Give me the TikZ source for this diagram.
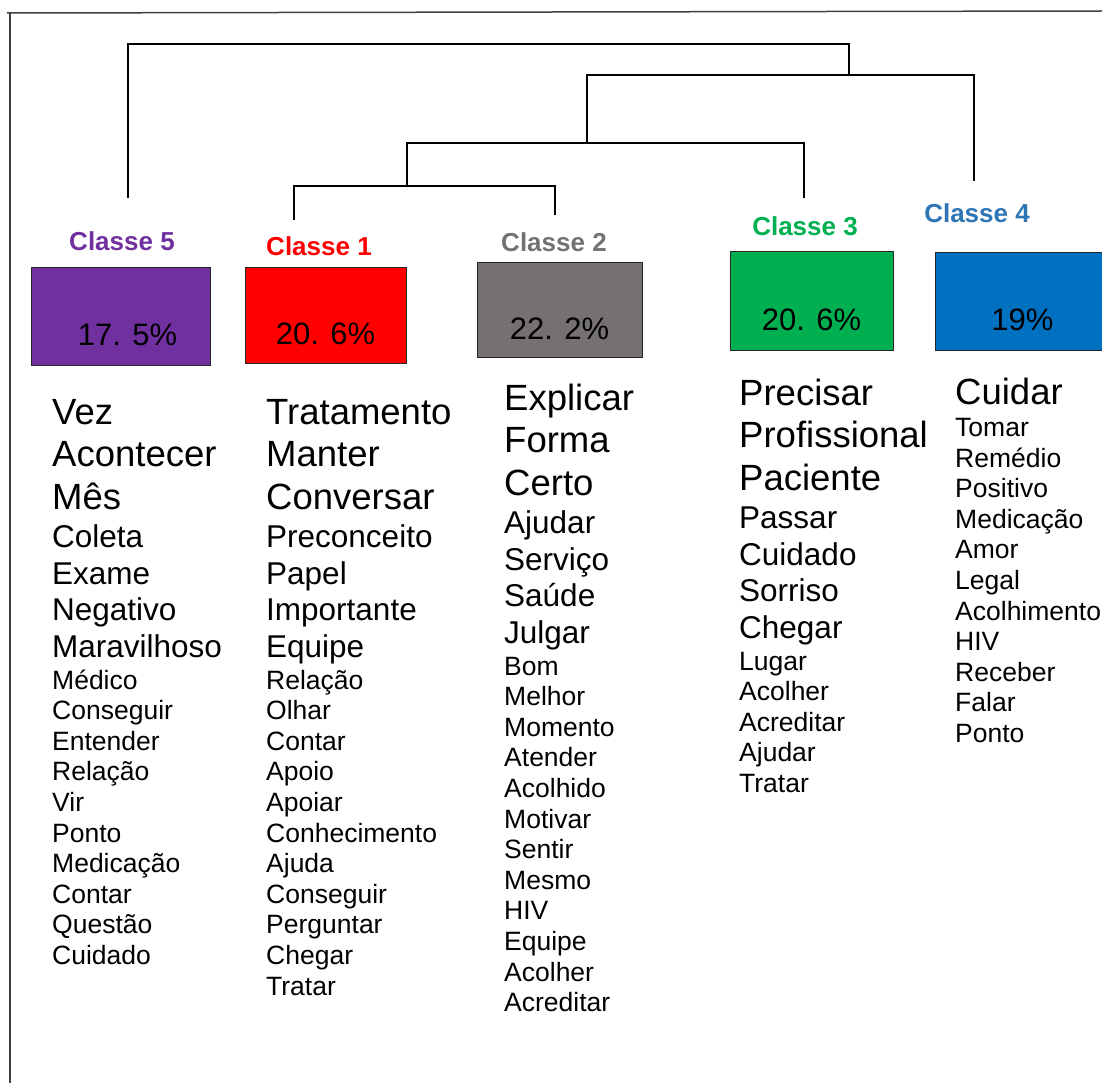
\documentclass[tikz,border=0pt]{standalone}
\usepackage{fontspec}
\setmainfont{Liberation Sans}
\usepackage{xcolor}
\usetikzlibrary{positioning,calc}

\definecolor{purpleC}{HTML}{7030A0}
\definecolor{redC}{HTML}{FF0000}
\definecolor{grayC}{HTML}{767171}
\definecolor{greenC}{HTML}{00B050}
\definecolor{blueC}{HTML}{0070C0}
\definecolor{blueT}{HTML}{2E75B6}

\begin{document}
\begin{tikzpicture}[x=1pt, y=-1pt,
    box/.style={rectangle, draw=black!85, line width=0.8pt, inner sep=0pt},
    classe/.style={font=\fontsize{26}{31}\selectfont\bfseries, inner sep=0pt},
    pct/.style={font=\fontsize{31}{36}\selectfont, inner sep=0pt},
    big/.style={font=\fontsize{36.5}{43}\selectfont, anchor=base west, inner sep=0pt},
    mid/.style={font=\fontsize{31.5}{37}\selectfont, anchor=base west, inner sep=0pt},
    small/.style={font=\fontsize{26.5}{31}\selectfont, anchor=base west, inner sep=0pt},
    dendro/.style={line width=2.8pt, black},
    frame/.style={line width=1.5pt, black!75}]

    \useasboundingbox (0,0) rectangle (1102,1083);

    % frame
    \draw[frame] (7,13) -- (1102,11);
    \draw[frame] (10,13) -- (10,1083);

    % Boxes
    \node[box, fill=purpleC, minimum width=179pt, minimum height=98pt] (b5) at (120.5,316) {};
    \node[box, fill=redC, minimum width=161pt, minimum height=96pt] (b1) at (325.5,315) {};
    \node[box, fill=grayC, minimum width=165pt, minimum height=95pt] (b2) at (559.5,309.5) {};
    \node[box, fill=greenC, minimum width=163pt, minimum height=99pt] (b3) at (811.5,300.5) {};
    \node[box, fill=blueC, minimum width=175pt, minimum height=98pt] (b4) at (1022.5,301) {};

    \node[pct] (p5) at ([xshift=7pt, yshift=-19pt]b5.center) {17. 5\%};
    \node[pct] (p1) at ([yshift=-19pt]b1.center) {20. 6\%};
    \node[pct] (p2) at ([yshift=-19pt]b2.center) {22. 2\%};
    \node[pct] (p3) at ([yshift=-19pt]b3.center) {20. 6\%};
    \node[pct] (p4) at ([yshift=-19pt]b4.center) {19\%};

    % Class labels
    \node[classe, text=purpleC] (l5) at (122,241) {Classe 5};
    \node[classe, text=redC] (l1) at (319,246) {Classe 1};
    \node[classe, text=grayC] (l2) at (554,242) {Classe 2};
    \node[classe, text=greenC] (l3) at (805,226) {Classe 3};
    \node[classe, text=blueT] (l4) at (977,213) {Classe 4};

    % Dendrogram
    \coordinate (t5) at (128,198);
    \coordinate (t1) at (294,220);
    \coordinate (t2) at (555,215);
    \coordinate (t3) at (804,198);
    \coordinate (t4) at (974,181);
    \coordinate (j12) at (407,186);
    \coordinate (j123) at (587,143);
    \coordinate (j1234) at (849,75);
    \coordinate (root) at (849,44);

    \draw[dendro] (t1) |- (j12) -| (t2);
    \draw[dendro] (j12) |- (j123) -| (t3);
    \draw[dendro] (j123) |- (j1234) -| (t4);
    \draw[dendro] (t5) |- (root) -- (j1234);

    % Classe 5 words
    \foreach \w [count=\i from 0] in {Vez, Acontecer, Mês}
        \node[big] (w5a\i) at (52,{424+42.7*\i}) {\w};
    \foreach \w [count=\i from 0] in {Coleta, Exame, Negativo, Maravilhoso}
        \node[mid] (w5b\i) at (52,{547.4+36.7*\i}) {\w};
    \foreach \w [count=\i from 0] in {Médico, Conseguir, Entender, Relação, Vir, Ponto, Medicação, Contar, Questão, Cuidado}
        \node[small] (w5c\i) at (52,{689+30.6*\i}) {\w};

    % Classe 1 words
    \foreach \w [count=\i from 0] in {Tratamento, Manter, Conversar}
        \node[big] (w1a\i) at (266,{424+42.7*\i}) {\w};
    \foreach \w [count=\i from 0] in {Preconceito, Papel, Importante, Equipe}
        \node[mid] (w1b\i) at (266,{547.4+36.7*\i}) {\w};
    \foreach \w [count=\i from 0] in {Relação, Olhar, Contar, Apoio, Apoiar, Conhecimento, Ajuda, Conseguir, Perguntar, Chegar, Tratar}
        \node[small] (w1c\i) at (266,{689+30.6*\i}) {\w};

    % Classe 2 words
    \foreach \w [count=\i from 0] in {Explicar, Forma, Certo}
        \node[big] (w2a\i) at (504,{410+42.7*\i}) {\w};
    \foreach \w [count=\i from 0] in {Ajudar, Serviço, Saúde, Julgar}
        \node[mid] (w2b\i) at (504,{533.4+36.7*\i}) {\w};
    \foreach \w [count=\i from 0] in {Bom, Melhor, Momento, Atender, Acolhido, Motivar, Sentir, Mesmo, HIV, Equipe, Acolher, Acreditar}
        \node[small] (w2c\i) at (504,{675+30.6*\i}) {\w};

    % Classe 3 words
    \foreach \w [count=\i from 0] in {Precisar, Profissional, Paciente}
        \node[big] (w3a\i) at (739,{405+42.7*\i}) {\w};
    \foreach \w [count=\i from 0] in {Passar, Cuidado, Sorriso, Chegar}
        \node[mid] (w3b\i) at (739,{528.4+36.7*\i}) {\w};
    \foreach \w [count=\i from 0] in {Lugar, Acolher, Acreditar, Ajudar, Tratar}
        \node[small] (w3c\i) at (739,{670+30.6*\i}) {\w};

    % Classe 4 words
    \node[big] (w4a0) at (955,404) {Cuidar};
    \foreach \w [count=\i from 0] in {Tomar, Remédio, Positivo, Medicação, Amor, Legal, Acolhimento, HIV, Receber, Falar, Ponto}
        \node[small] (w4c\i) at (955,{436.5+30.6*\i}) {\w};

\end{tikzpicture}
\end{document}
